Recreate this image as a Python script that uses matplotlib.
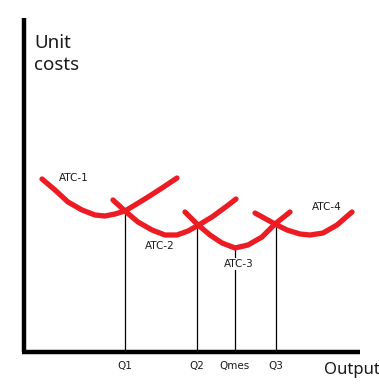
import numpy as np
import matplotlib.pyplot as plt

# curve points (x, y in picture pixels, y down)
atc1_x = [42, 55, 68, 82, 95, 105, 115, 125, 135, 148, 162, 177]
atc1_y = [179, 190, 202, 210, 215, 216, 214, 211, 205, 197, 188, 178]
atc2_x = [113, 125, 138, 152, 165, 177, 188, 197, 212, 227, 236]
atc2_y = [200, 211, 222, 230, 235, 235, 231, 226, 217, 206, 199]
atc3_x = [185, 197, 210, 222, 235, 248, 262, 275, 290]
atc3_y = [212, 224, 235, 243, 248, 245, 237, 224, 212]
atc4_x = [255, 275, 287, 300, 310, 323, 337, 352]
atc4_y = [213, 224, 230, 234, 235, 233, 225, 212]

q_names = ['Q1', 'Q2', 'Qmes', 'Q3']
q_x = [125, 197, 235, 276]
q_top = [211, 225, 248, 224]

curve_names = ['ATC-1', 'ATC-2', 'ATC-3', 'ATC-4']
label_x = [74, 160, 239, 327]
label_y = [178, 246, 264, 207]

red = '#ed1c24'
ink = '#1a1a1a'

fig = plt.figure(figsize=(3.79, 3.86), dpi=100)
ax = fig.add_axes([0, 0, 1, 1])
ax.set_xlim(0, 379)
ax.set_ylim(386, 0)
ax.axis('off')

# axes lines
ax.plot([24, 24], [18, 352], color='black', lw=3.2, solid_capstyle='butt')
ax.plot([22, 360], [352, 352], color='black', lw=3.2, solid_capstyle='butt')

# quantity lines
for qx, qt in zip(q_x, q_top):
    ax.plot([qx, qx], [qt, 352], color='black', lw=0.9)

for xs, ys in [(atc1_x, atc1_y), (atc2_x, atc2_y), (atc3_x, atc3_y), (atc4_x, atc4_y)]:
    ax.plot(xs, ys, color=red, lw=3.8, solid_capstyle='round', solid_joinstyle='round')

for name, lx, ly in zip(curve_names, label_x, label_y):
    ax.text(lx, ly, name, fontsize=7.5, ha='center', va='center', color=ink,
            bbox=dict(facecolor='white', edgecolor='none', pad=0.5))

for name, qx in zip(q_names, q_x):
    ax.text(qx, 366, name, fontsize=7.5, ha='center', va='center', color=ink)

ax.text(34, 54, 'Unit\ncosts', fontsize=13.5, ha='left', va='center',
        linespacing=1.3, color=ink, family='Noto Sans')
ax.text(324, 370, 'Output', fontsize=12, ha='left', va='center', color=ink,
        family='Noto Sans')

fig.savefig('out.png', dpi=100)
